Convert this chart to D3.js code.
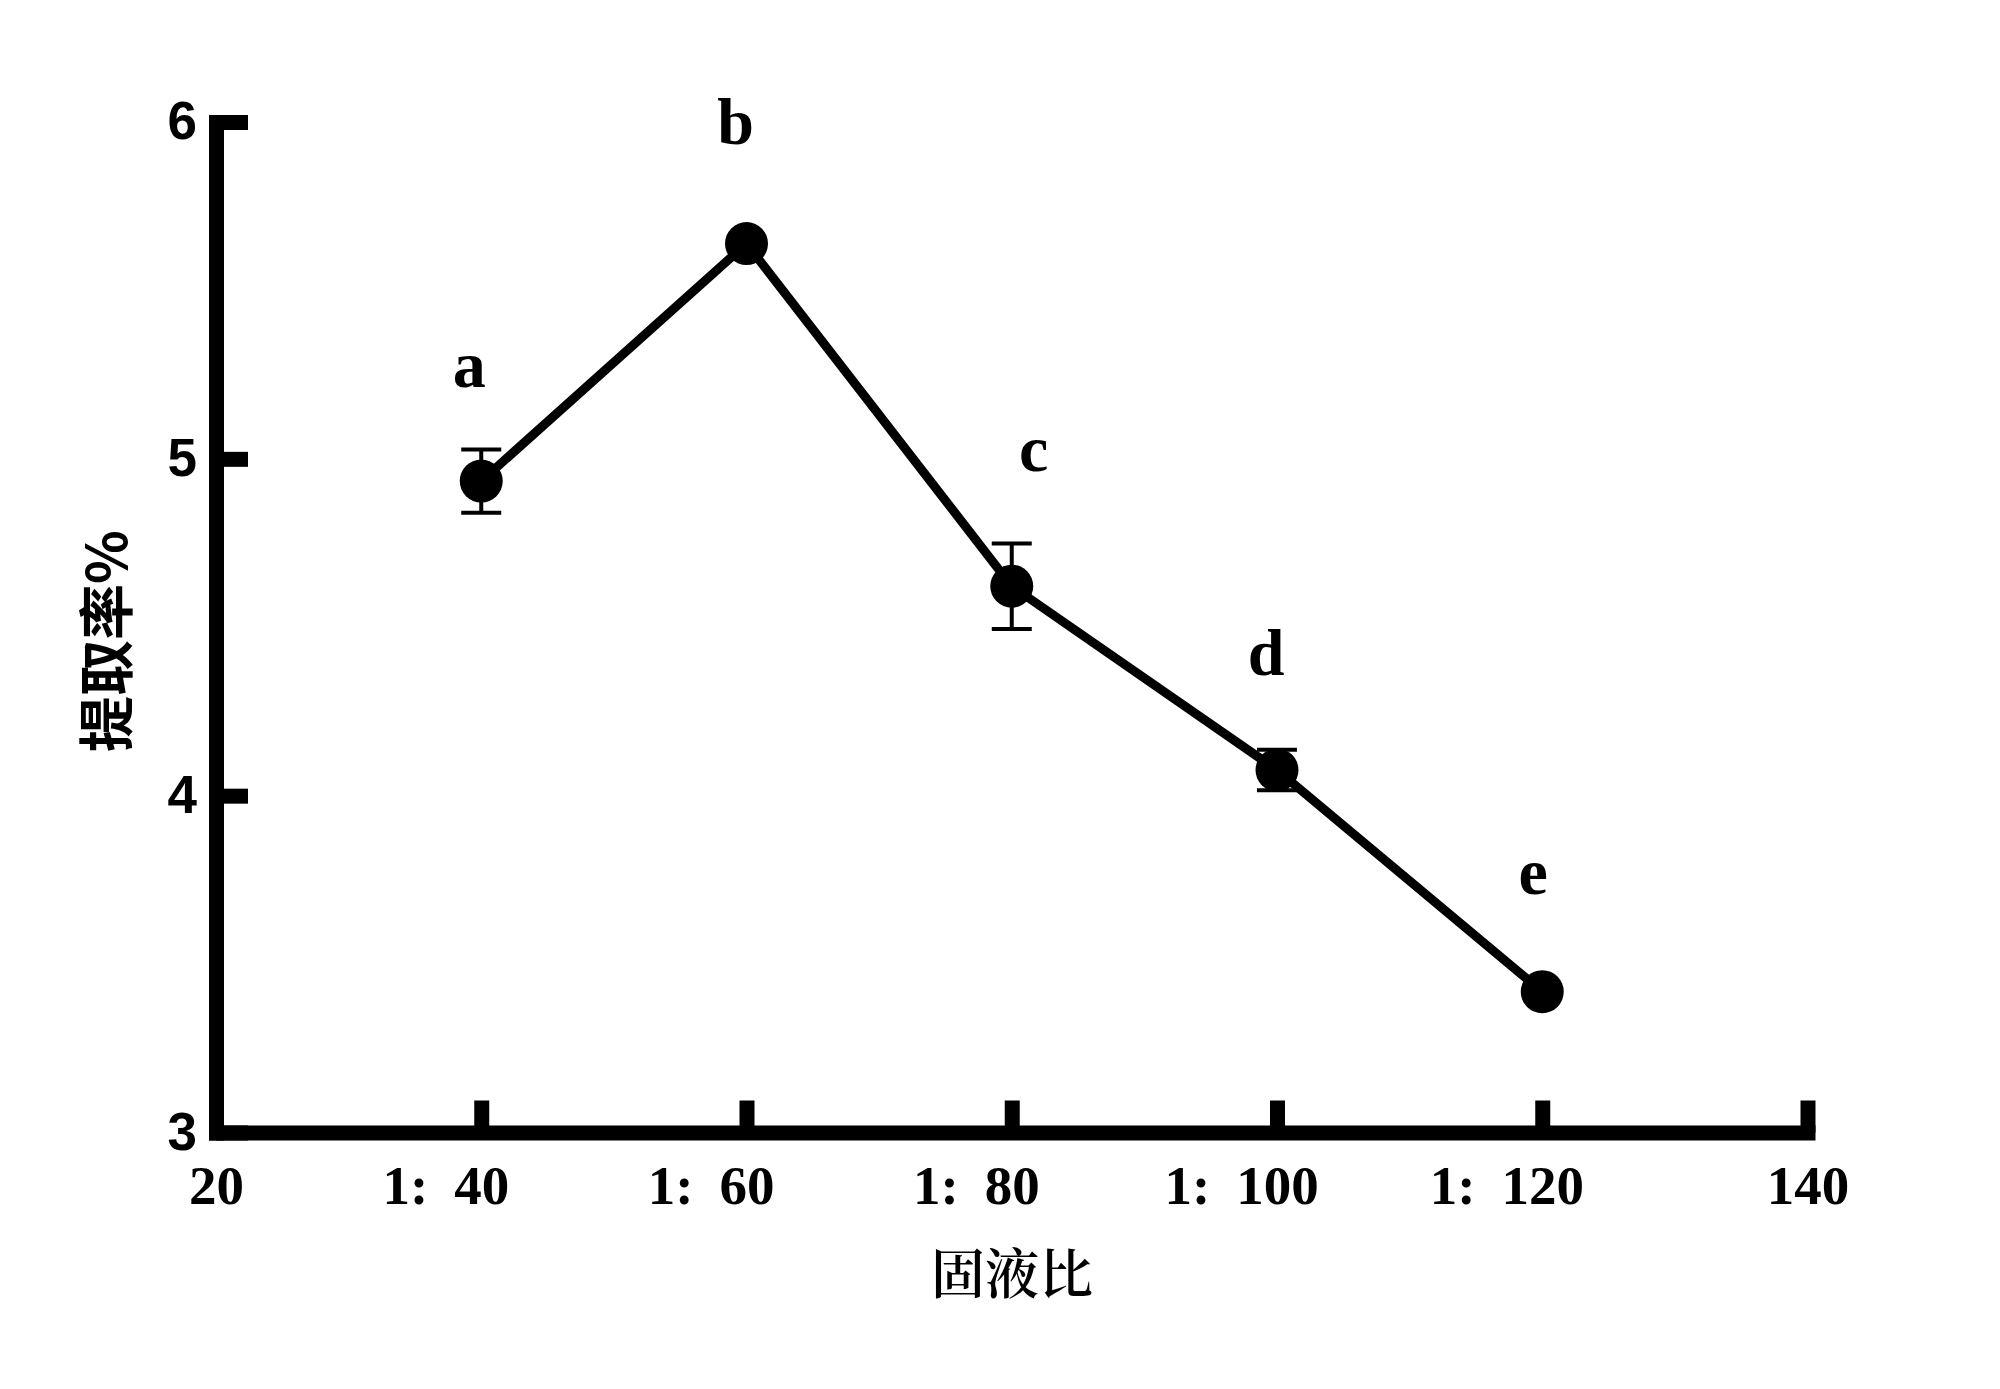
<!DOCTYPE html>
<html>
<head>
<meta charset="utf-8">
<script src="https://cdn.jsdelivr.net/npm/d3@7/dist/d3.min.js"></script>
<style>
  html, body { margin: 0; padding: 0; background: #fff; }
  svg { display: block; }
</style>
</head>
<body>
<svg id="chart" width="2000" height="1389"></svg>
<script>
// ---- data ----
const xCategories = [40, 60, 80, 100, 120];
const yValues     = [4.934, 5.639, 4.622, 4.076, 3.418];
const yErrors     = [0.094, 0.01, 0.127, 0.06, 0.01];
const letters     = ["a", "b", "c", "d", "e"];
const xTicks      = [20, 40, 60, 80, 100, 120, 140];
const xTickPrefix = ["", "1:", "1:", "1:", "1:", "1:", ""];
const yTicks      = [3, 4, 5, 6];
const xTitle = "固液比";
const yTitle = "提取率%";

// layout: pixel offsets of the letter annotations relative to their points
const letterOffsets = [[-12, -94], [-11, -100], [22, -115], [-11, -95], [-9, -98]];

const points = xCategories.map((x, i) => ({ x, y: yValues[i], e: yErrors[i], l: letters[i], i }));

// ---- layout ----
const svg = d3.select("#chart");
const x = d3.scaleLinear().domain([20, 140]).range([216, 1807.5]);
const y = d3.scaleLinear().domain([3, 6]).range([1132.5, 122]);

const axisW = 15;

// x axis
const gx = svg.append("g").attr("transform", `translate(0,${y(3)})`)
  .call(d3.axisBottom(x).tickValues(xTicks).tickSize(-32).tickSizeOuter(0)
    .tickPadding(32).tickFormat(d => String(d)));
gx.select(".domain").attr("stroke", "#000").attr("stroke-width", axisW).attr("stroke-linecap", "square");
gx.selectAll(".tick line").attr("stroke", "#000").attr("stroke-width", axisW);
gx.selectAll(".tick text")
  .attr("font-family", "'Liberation Serif', 'Times New Roman', serif")
  .attr("font-weight", "bold").attr("font-size", 55).attr("fill", "#000");
gx.selectAll(".tick").each(function(d) {
  const pre = xTickPrefix[xTicks.indexOf(d)];
  if (!pre) return;
  const t = d3.select(this).select("text");
  const w = t.node().getComputedTextLength();
  d3.select(this).append("text")
    .attr("x", -(w / 2 + 26)).attr("y", t.attr("y")).attr("dy", t.attr("dy"))
    .attr("text-anchor", "end")
    .attr("font-family", "'Liberation Serif', 'Times New Roman', serif")
    .attr("font-weight", "bold").attr("font-size", 55).attr("fill", "#000")
    .text(pre);
});

// y axis
const gy = svg.append("g").attr("transform", `translate(${x(20)},0)`)
  .call(d3.axisLeft(y).tickValues(yTicks).tickSize(-32).tickSizeOuter(0)
    .tickPadding(19).tickFormat(d3.format("d")));
gy.select(".domain").attr("stroke", "#000").attr("stroke-width", axisW).attr("stroke-linecap", "square");
gy.selectAll(".tick line").attr("stroke", "#000").attr("stroke-width", axisW);
gy.selectAll(".tick text")
  .attr("font-family", "'Liberation Sans', Arial, sans-serif")
  .attr("font-weight", "bold").attr("font-size", 53).attr("fill", "#000");

// line
svg.append("path").datum(points)
  .attr("fill", "none").attr("stroke", "#000").attr("stroke-width", 9)
  .attr("d", d3.line().x(d => x(d.x)).y(d => y(d.y)));

// error bars
const eb = svg.append("g").attr("stroke", "#000").attr("stroke-width", 4);
points.forEach(d => {
  const cx = x(d.x), y1 = y(d.y + d.e), y2 = y(d.y - d.e);
  eb.append("line").attr("x1", cx).attr("x2", cx).attr("y1", y1).attr("y2", y2);
  eb.append("line").attr("x1", cx - 20).attr("x2", cx + 20).attr("y1", y1).attr("y2", y1);
  eb.append("line").attr("x1", cx - 20).attr("x2", cx + 20).attr("y1", y2).attr("y2", y2);
});

// markers
svg.append("g").selectAll("circle").data(points).join("circle")
  .attr("cx", d => x(d.x)).attr("cy", d => y(d.y)).attr("r", 21.5).attr("fill", "#000");

// letters
svg.append("g").selectAll("text").data(points).join("text")
  .attr("x", d => x(d.x) + letterOffsets[d.i][0]).attr("y", d => y(d.y) + letterOffsets[d.i][1])
  .attr("text-anchor", "middle")
  .attr("font-family", "'Liberation Serif', 'Times New Roman', serif")
  .attr("font-weight", "bold").attr("font-size", 66).attr("fill", "#000")
  .text(d => d.l);

// axis titles
svg.append("text")
  .attr("x", 1012).attr("y", 1294)
  .attr("text-anchor", "middle")
  .attr("font-family", "'Noto Serif CJK SC', 'Noto Sans CJK SC', serif")
  .attr("font-weight", 600)
  .attr("font-size", 54).attr("fill", "#000")
  .text(xTitle);

svg.append("text")
  .attr("transform", "translate(127,641) rotate(-90)")
  .attr("text-anchor", "middle")
  .attr("font-family", "'Noto Sans CJK SC', sans-serif")
  .attr("font-weight", "bold").attr("font-size", 56).attr("fill", "#000")
  .text(yTitle);
</script>
</body>
</html>
